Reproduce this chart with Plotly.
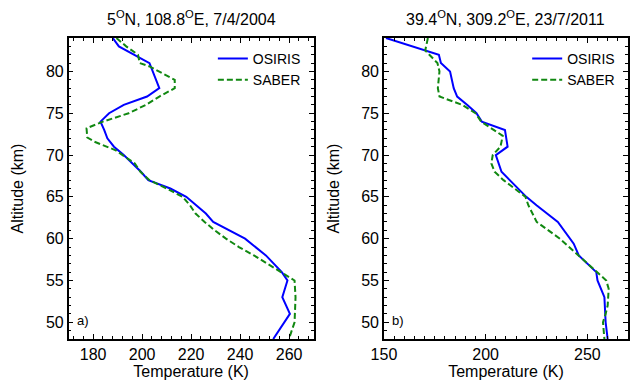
import plotly.graph_objects as go

# ---------------- data ----------------
# panel a) 5N, 108.8E, 7/4/2004
alt_a_osiris = [84, 83, 81, 80, 78, 77, 76, 75, 74, 73, 72, 71, 70, 68, 67, 66, 65, 63, 62, 60, 58, 56, 55, 53, 51, 48]
temp_a_osiris = [188, 190.5, 203, 204.3, 207, 202, 192.5, 186.5, 183, 184.5, 185.8, 188.5, 192.5, 199.5, 202.5, 211.5, 218, 226, 229, 242, 250.5, 257, 259.3, 257.2, 260.3, 253.5]

alt_a_saber = [84, 83, 82, 81, 80.6, 79, 78, 77, 76, 75, 74, 73.2, 72.1, 71.6, 70.6, 69, 68, 67, 66, 65, 64, 63, 62, 61, 60, 59, 58, 57, 56, 55, 53, 50, 48]
temp_a_saber = [189.5, 193.5, 198.3, 199, 203, 213.3, 213.3, 207, 201.5, 194.5, 184, 177.3, 177.6, 180.5, 189, 197, 199.3, 203, 210, 216.5, 219.5, 221.8, 225.5, 229.6, 234.2, 239.5, 245.6, 251, 256.3, 262.2, 262.6, 262.2, 259.9]

# panel b) 39.4N, 309.2E, 23/7/2011
alt_b_osiris = [84, 83, 82.5, 82, 81, 80, 78, 77, 76, 75, 74, 73, 71, 70, 68, 67, 65, 64, 62, 59.4, 58, 56, 55, 53, 50, 48]
temp_b_osiris = [151, 163.5, 170.3, 177, 178, 182.5, 184.3, 186, 191, 195.5, 198.1, 209.5, 210.8, 205, 207.8, 212, 220, 225, 235.5, 243.3, 245.8, 254.4, 255, 258.4, 259, 260]

alt_b_saber = [84, 82.5, 81, 80, 78, 77, 76, 75, 74, 72.3, 71, 70, 69, 68, 67, 65, 64, 62, 60, 58, 56, 55, 54, 52, 51, 50, 48]
temp_b_saber = [171.6, 170.3, 176.3, 177.3, 176.5, 177.3, 188.5, 195, 197.8, 208.4, 207.3, 203.5, 202.8, 204.4, 208.8, 219.6, 221, 225.1, 236.5, 245.7, 254.5, 259.3, 260.5, 260, 259, 257.7, 258.4]

titles = ["5<sup>O</sup>N, 108.8<sup>O</sup>E, 7/4/2004", "39.4<sup>O</sup>N, 309.2<sup>O</sup>E, 23/7/2011"]
panel_labels = ["a)", "b)"]
series_names = ["OSIRIS", "SABER"]

# ---------------- figure ----------------
FONT = "Liberation Sans, Arial, sans-serif"
BLUE = "#0000ff"
GREEN = "#118811"

fig = go.Figure()

fig.add_trace(go.Scatter(x=temp_a_osiris, y=alt_a_osiris, mode="lines", name=series_names[0],
                         line=dict(color=BLUE, width=2), xaxis="x", yaxis="y", legend="legend"))
fig.add_trace(go.Scatter(x=temp_a_saber, y=alt_a_saber, mode="lines", name=series_names[1],
                         line=dict(color=GREEN, width=2, dash="6px,3px"), xaxis="x", yaxis="y", legend="legend"))
fig.add_trace(go.Scatter(x=temp_b_osiris, y=alt_b_osiris, mode="lines", name=series_names[0],
                         line=dict(color=BLUE, width=2), xaxis="x2", yaxis="y2", legend="legend2"))
fig.add_trace(go.Scatter(x=temp_b_saber, y=alt_b_saber, mode="lines", name=series_names[1],
                         line=dict(color=GREEN, width=2, dash="6px,3px"), xaxis="x2", yaxis="y2", legend="legend2"))

W, H = 630, 383
ydom = [1 - 339 / H, 1 - 38 / H]
xdom1 = [57 / W, 308 / W]
xdom2 = [380 / W, 630 / W]

common_axis = dict(
    showline=True, linecolor="black", linewidth=1.5, mirror="ticks",
    ticks="inside", ticklen=5, tickwidth=1.3, tickcolor="black",
    showgrid=False, zeroline=False,
    tickfont=dict(family=FONT, size=16, color="black"),
    title_font=dict(family=FONT, size=16, color="black"),
)

fig.update_layout(
    width=W, height=H,
    margin=dict(l=0, r=0, t=0, b=0),
    paper_bgcolor="white", plot_bgcolor="white",
    font=dict(family=FONT, color="black"),
    xaxis=dict(domain=xdom1, anchor="y", range=[170, 270], dtick=20, tick0=0,
               minor=dict(dtick=4, ticks="inside", ticklen=3, tickcolor="black", showgrid=False),
               title=dict(text="Temperature (K)", standoff=2), **common_axis),
    yaxis=dict(domain=ydom, anchor="x", range=[48, 84], dtick=5, tick0=0,
               minor=dict(dtick=1, ticks="inside", ticklen=3, tickcolor="black", showgrid=False),
               title=dict(text="Altitude (km)", standoff=18), **common_axis),
    xaxis2=dict(domain=xdom2, anchor="y2", range=[150, 270], dtick=50, tick0=0,
                minor=dict(dtick=5, ticks="inside", ticklen=3, tickcolor="black", showgrid=False),
                title=dict(text="Temperature (K)", standoff=2), **common_axis),
    yaxis2=dict(domain=ydom, anchor="x2", range=[48, 84], dtick=5, tick0=0,
                minor=dict(dtick=1, ticks="inside", ticklen=3, tickcolor="black", showgrid=False),
                title=dict(text="Altitude (km)", standoff=18), **common_axis),
    legend=dict(x=xdom1[1] - 8 / W, y=ydom[1] - 5 / H, xanchor="right", yanchor="top",
                bgcolor="rgba(0,0,0,0)", font=dict(family=FONT, size=14, color="black"),
                tracegroupgap=0, itemwidth=30),
    legend2=dict(x=xdom2[1] - 8 / W, y=ydom[1] - 5 / H, xanchor="right", yanchor="top",
                 bgcolor="rgba(0,0,0,0)", font=dict(family=FONT, size=14, color="black"),
                 tracegroupgap=0, itemwidth=30),
    showlegend=True,
)

for i, (xd, t, lab) in enumerate(zip([xdom1, xdom2], titles, panel_labels)):
    fig.add_annotation(text=t, xref="paper", yref="paper", x=(xd[0] + xd[1]) / 2, y=1 - 18 / H,
                       xanchor="center", yanchor="middle", showarrow=False,
                       font=dict(family=FONT, size=16, color="black"))
    fig.add_annotation(text=lab, xref="paper", yref="paper", x=xd[0] + 6 / W, y=1 - 320 / H,
                       xanchor="left", yanchor="middle", showarrow=False,
                       font=dict(family=FONT, size=13, color="black"))

fig.write_html("out.html")
